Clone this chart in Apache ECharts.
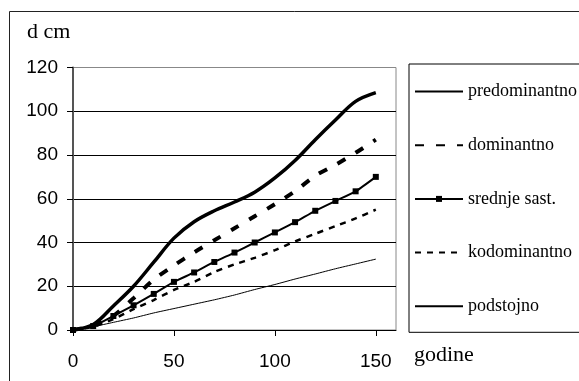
<!DOCTYPE html>
<html>
<head>
<meta charset="utf-8">
<script src="https://cdn.jsdelivr.net/npm/echarts@6/dist/echarts.min.js"></script>
<style>
  html, body { margin: 0; padding: 0; background: #fff; }
  #chart { width: 579px; height: 381px; }
</style>
</head>
<body>
<div id="chart"></div>
<script>
// age in years (godine)
const years = [0, 10, 20, 30, 40, 50, 60, 70, 80, 90, 100, 110, 120, 130, 140, 150];
// diameter d (cm) per tree class
const predominantno = [0, 2.5, 11, 20, 31, 42, 49.5, 54.5, 58.5, 63, 69.5, 77.5, 87, 96, 104.5, 108.5];
const dominantno = [0, 2, 6.5, 14.5, 23, 29.5, 35.5, 41, 46.5, 52, 57.5, 63.5, 70.5, 75.5, 81, 87];
const srednjeSast = [0, 1.8, 6.4, 11.3, 16.5, 22, 26.3, 31.1, 35.4, 40, 44.6, 49.3, 54.5, 59, 63.4, 70];
const kodominantno = [0, 1.5, 5, 9.5, 13.7, 18.3, 22, 26.5, 30, 33, 36.5, 40.5, 44, 47.5, 51, 55];
const podstojno = [0, 1.5, 3.5, 5.5, 7.8, 9.8, 11.8, 13.8, 16, 18.5, 20.8, 23.3, 25.6, 28, 30.2, 32.4];

const xTicks = [0, 50, 100, 150];
const seriesNames = ['predominantno', 'dominantno', 'srednje sast.', 'kodominantno', 'podstojno'];

const pairs = (ys) => years.map((x, i) => [x, ys[i]]);

const chart = echarts.init(document.getElementById('chart'));

const sansFont = '"Liberation Sans", Arial, sans-serif';
const serifFont = '"Liberation Serif", "Times New Roman", serif';

// only "srednje sast." keeps its marker in the legend
const legendData = seriesNames.map(name => ({
  name: name,
  itemStyle: { opacity: name === 'srednje sast.' ? 1 : 0 }
}));

chart.setOption({
  animation: false,
  backgroundColor: '#fff',
  grid: {
    left: 73,
    top: 67.5,
    right: 183,
    bottom: 51,
    show: true,
    borderColor: '#888',
    borderWidth: 1
  },
  xAxis: {
    type: 'value',
    min: 0,
    max: 160,
    axisLine: { show: true, onZero: false, lineStyle: { color: '#000', width: 1 } },
    axisTick: { show: true, length: 6, customValues: xTicks, lineStyle: { color: '#000' } },
    axisLabel: {
      customValues: xTicks,
      color: '#000',
      fontFamily: sansFont,
      fontSize: 19,
      margin: 22
    },
    splitLine: { show: false }
  },
  yAxis: {
    type: 'value',
    min: 0,
    max: 120,
    interval: 20,
    axisLine: { show: true, lineStyle: { color: '#555', width: 2 } },
    axisTick: { show: true, length: 6, lineStyle: { color: '#000' } },
    axisLabel: {
      color: '#000',
      fontFamily: sansFont,
      fontSize: 19,
      margin: 15
    },
    splitLine: { show: true, showMaxLine: false, lineStyle: { color: '#000', width: 1 } }
  },
  legend: {
    orient: 'vertical',
    left: 409,
    top: 64,
    data: legendData,
    itemWidth: 48,
    itemHeight: 7.5,
    itemGap: 35.7,
    itemTextGap: 11,
    padding: [18.5, 60, 17, 5],
    borderColor: '#000',
    borderWidth: 1,
    textStyle: { fontFamily: serifFont, fontSize: 18, color: '#000' }
  },
  graphic: [
    {
      type: 'rect',
      silent: true,
      z: -1,
      shape: { x: 9.5, y: 11.5, width: 700, height: 500 },
      style: { fill: 'none', stroke: '#222', lineWidth: 1 }
    },
    {
      type: 'text',
      left: 27,
      top: 21,
      style: { text: 'd cm', fontFamily: serifFont, fontSize: 22, fill: '#000' }
    },
    {
      type: 'text',
      left: 414,
      top: 344,
      style: { text: 'godine', fontFamily: serifFont, fontSize: 22, fill: '#000' }
    }
  ],
  series: [
    {
      name: 'predominantno',
      type: 'line',
      data: pairs(predominantno),
      smooth: 0.35,
      symbol: 'none',
      lineStyle: { color: '#000', width: 3.5 },
      itemStyle: { color: '#000' }
    },
    {
      name: 'dominantno',
      type: 'line',
      data: pairs(dominantno),
      smooth: 0.3,
      symbol: 'none',
      lineStyle: { color: '#000', width: 4, type: [9, 12] },
      itemStyle: { color: '#000' }
    },
    {
      name: 'srednje sast.',
      type: 'line',
      data: pairs(srednjeSast),
      smooth: 0.2,
      symbol: 'rect',
      symbolSize: 6,
      lineStyle: { color: '#000', width: 2 },
      itemStyle: { color: '#000' }
    },
    {
      name: 'kodominantno',
      type: 'line',
      data: pairs(kodominantno),
      smooth: 0.2,
      symbol: 'none',
      lineStyle: { color: '#000', width: 2.5, type: [6, 6] },
      itemStyle: { color: '#000' }
    },
    {
      name: 'podstojno',
      type: 'line',
      data: pairs(podstojno),
      smooth: 0.2,
      symbol: 'none',
      lineStyle: { color: '#000', width: 1 },
      itemStyle: { color: '#000' }
    }
  ]
});
</script>
</body>
</html>
